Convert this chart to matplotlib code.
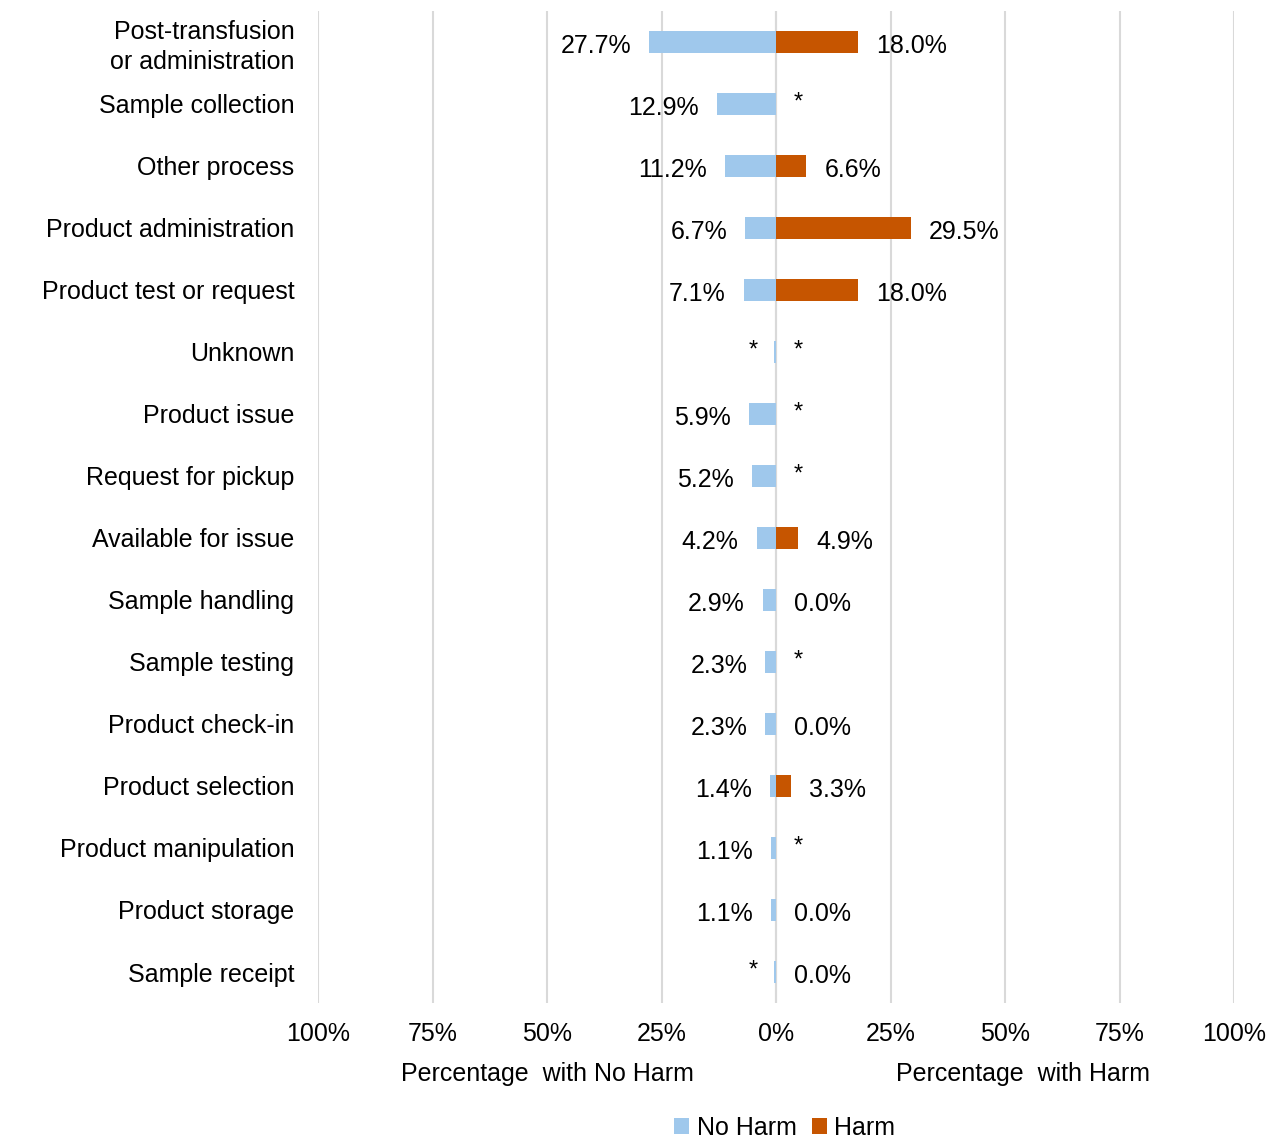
import matplotlib.pyplot as plt
import numpy as np

plt.rcParams['font.family'] = ['Liberation Sans', 'DejaVu Sans']

categories = ["Post-transfusion\nor administration", "Sample collection", "Other process",
              "Product administration", "Product test or request", "Unknown", "Product issue",
              "Request for pickup", "Available for issue", "Sample handling", "Sample testing",
              "Product check-in", "Product selection", "Product manipulation", "Product storage",
              "Sample receipt"]
# '*' = suppressed small value; drawn as a sliver
no_harm = [27.7, 12.9, 11.2, 6.7, 7.1, 0.5, 5.9, 5.2, 4.2, 2.9, 2.3, 2.3, 1.4, 1.1, 1.1, 0.5]
no_harm_lbl = ["27.7%", "12.9%", "11.2%", "6.7%", "7.1%", "*", "5.9%", "5.2%", "4.2%", "2.9%",
               "2.3%", "2.3%", "1.4%", "1.1%", "1.1%", "*"]
harm = [18.0, 0, 6.6, 29.5, 18.0, 0, 0, 0, 4.9, 0.0, 0, 0.0, 3.3, 0, 0.0, 0.0]
harm_lbl = ["18.0%", "*", "6.6%", "29.5%", "18.0%", "*", "*", "*", "4.9%", "0.0%", "*", "0.0%",
            "3.3%", "*", "0.0%", "0.0%"]
ticks = [-100, -75, -50, -25, 0, 25, 50, 75, 100]

blue = '#9FC8EC'
orange = '#C65500'
fs = 18

fig = plt.figure(figsize=(12.7, 11.45), dpi=100)
ax = fig.add_axes([0.2504, 0.124, 0.7213, 0.8666])
y = np.arange(len(categories))

ax.barh(y, -np.array(no_harm), height=0.36, color=blue, label='No Harm', zorder=3)
ax.barh(y, harm, height=0.36, color=orange, label='Harm', zorder=3)

for i in range(len(categories)):
    if no_harm_lbl[i] == '*':
        ax.annotate('*', (-no_harm[i], y[i]), xytext=(-15, 1), textcoords='offset points',
                    ha='center', va='center', fontsize=fs - 1)
    else:
        ax.annotate(no_harm_lbl[i], (-no_harm[i], y[i]), xytext=(-13, -1),
                    textcoords='offset points', ha='right', va='center_baseline', fontsize=fs)
    if harm_lbl[i] == '*':
        ax.annotate('*', (0, y[i]), xytext=(16, 1), textcoords='offset points',
                    ha='center', va='center', fontsize=fs - 1)
    else:
        ax.annotate(harm_lbl[i], (harm[i], y[i]), xytext=(13, -1), textcoords='offset points',
                    ha='left', va='center_baseline', fontsize=fs)

ax.set_xlim(-100, 100)
ax.set_ylim(len(categories) - 0.5, -0.5)
ax.set_xticks(ticks)
ax.set_xticklabels([f"{abs(t)}%" for t in ticks], fontsize=fs)
ax.set_yticks(y)
ax.set_yticklabels(categories, fontsize=fs, linespacing=1.3)
ax.tick_params(length=0, pad=14)
ax.tick_params(axis='y', pad=17)
ax.xaxis.grid(True, color='#D9D9D9', linewidth=1.5, zorder=0)
ax.axvline(0, color='#D9D9D9', linewidth=1.5, zorder=1)
for s in ax.spines.values():
    s.set_visible(False)

ax.text(-50, -0.072, "Percentage  with No Harm", transform=ax.get_xaxis_transform(),
        ha='center', va='center', fontsize=fs)
ax.text(54, -0.072, "Percentage  with Harm", transform=ax.get_xaxis_transform(),
        ha='center', va='center', fontsize=fs)

fig.legend(loc='lower center', bbox_to_anchor=(0.618, -0.015), ncol=2, frameon=False,
           fontsize=fs, handlelength=0.6, handleheight=0.6, handletextpad=0.3, columnspacing=0.6)

fig.savefig('out.png', dpi=100)
